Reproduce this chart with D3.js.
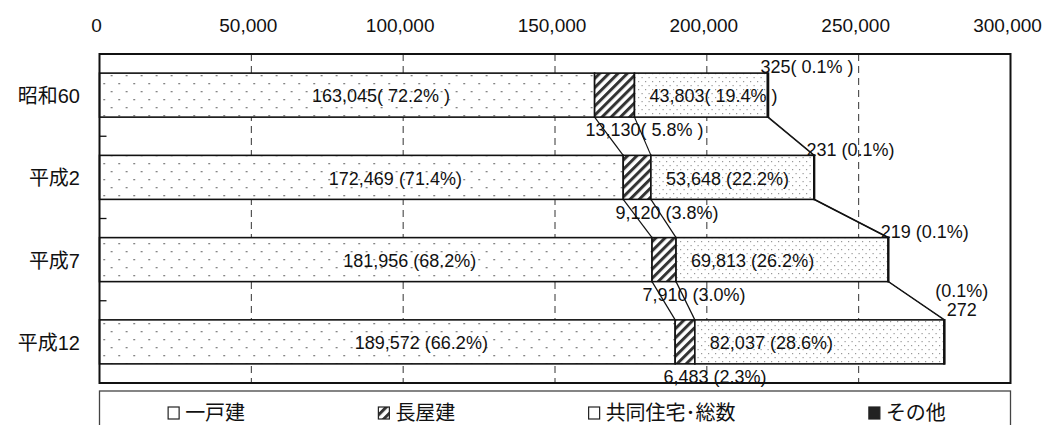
<!DOCTYPE html>
<html>
<head>
<meta charset="utf-8">
<script src="https://cdn.jsdelivr.net/npm/d3@7"></script>
<style>
  body { margin: 0; background: #fff; }
  text { font-family: "Liberation Sans", Arial, "Noto Sans CJK JP", sans-serif; fill: #111; }
</style>
</head>
<body>
<svg id="canvas" width="1049" height="425"></svg>
<script>
// values
var categories = ["昭和60", "平成2", "平成7", "平成12"];
var detached = [163045, 172469, 181956, 189572];
var rowHouse = [13130, 9120, 7910, 6483];
var apartment = [43803, 53648, 69813, 82037];
var other = [325, 231, 219, 272];
var detachedPct = ["( 72.2% )", " (71.4%)", " (68.2%)", " (66.2%)"];
var rowHousePct = ["( 5.8% )", " (3.8%)", " (3.0%)", " (2.3%)"];
var apartmentPct = ["( 19.4% )", " (22.2%)", " (26.2%)", " (28.6%)"];
var otherPct = ["( 0.1% )", " (0.1%)", " (0.1%)", "(0.1%)"];
var seriesNames = ["一戸建", "長屋建", "共同住宅･総数", "その他"];
var xTicks = [0, 50000, 100000, 150000, 200000, 250000, 300000];

var keys = ["detached", "rowHouse", "apartment", "other"];
var rows = categories.map(function(c, i) {
  return { cat: c, detached: detached[i], rowHouse: rowHouse[i], apartment: apartment[i], other: other[i] };
});
var stacked = d3.stack().keys(keys)(rows);

var svg = d3.select("#canvas");
// note: "top" is taken by window.top, so plotTop etc.
var plotLeft = 99.5, plotRight = 1010.5, plotTop = 54, plotBottom = 383;

var x = d3.scaleLinear().domain([0, 300000]).range([plotLeft, plotRight]);
var y = d3.scaleBand().domain(categories).range([plotTop, plotBottom])
  .paddingInner(0.465).paddingOuter(0.2325);
var fmt = d3.format(",");

// fill patterns
var defs = svg.append("defs");
var pDet = defs.append("pattern").attr("id", "pDet").attr("patternUnits", "userSpaceOnUse")
  .attr("width", 15).attr("height", 16).attr("x", plotLeft).attr("y", 0);
pDet.append("rect").attr("width", 15).attr("height", 16).attr("fill", "#fff");
pDet.append("rect").attr("x", 4).attr("y", 3).attr("width", 1.3).attr("height", 1.3).attr("fill", "#444");
pDet.append("rect").attr("x", 11.5).attr("y", 11).attr("width", 1.3).attr("height", 1.3).attr("fill", "#444");

var pRow = defs.append("pattern").attr("id", "pRow").attr("patternUnits", "userSpaceOnUse")
  .attr("width", 6.5).attr("height", 10).attr("patternTransform", "rotate(45)");
pRow.append("rect").attr("width", 6.5).attr("height", 10).attr("fill", "#fff");
pRow.append("rect").attr("width", 3).attr("height", 10).attr("fill", "#333");

var pApt = defs.append("pattern").attr("id", "pApt").attr("patternUnits", "userSpaceOnUse")
  .attr("width", 7).attr("height", 8);
pApt.append("rect").attr("width", 7).attr("height", 8).attr("fill", "#fff");
pApt.append("rect").attr("x", 1).attr("y", 1).attr("width", 1.2).attr("height", 1.2).attr("fill", "#999");
pApt.append("rect").attr("x", 4.5).attr("y", 5).attr("width", 1.2).attr("height", 1.2).attr("fill", "#999");

var fills = { detached: "url(#pDet)", rowHouse: "url(#pRow)", apartment: "url(#pApt)", other: "#111" };

// dashed grid lines
svg.append("g").selectAll("line")
  .data(xTicks.slice(1, -1))
  .enter().append("line")
    .attr("x1", function(d) { return x(d); }).attr("x2", function(d) { return x(d); })
    .attr("y1", plotTop).attr("y2", plotBottom)
    .attr("stroke", "#333").attr("stroke-width", 1).attr("stroke-dasharray", "7,5");

// top tick labels
svg.append("g").selectAll("text")
  .data(xTicks)
  .enter().append("text")
    .attr("x", function(d) { return x(d) - 3; })
    .attr("y", 32)
    .attr("text-anchor", "middle")
    .style("font-size", "19px")
    .text(function(d) { return fmt(d); });

// series lines between bars
var lines = svg.append("g");
stacked.forEach(function(s) {
  for (var i = 0; i < categories.length - 1; i++) {
    lines.append("line")
      .attr("x1", x(s[i][1])).attr("y1", y(categories[i]) + y.bandwidth())
      .attr("x2", x(s[i + 1][1])).attr("y2", y(categories[i + 1]))
      .attr("stroke", "#111").attr("stroke-width", 1.2);
  }
});

// bars
stacked.forEach(function(s) {
  svg.append("g").selectAll("rect")
    .data(s)
    .enter().append("rect")
      .attr("x", function(d) { return x(d[0]); })
      .attr("y", function(d) { return y(d.data.cat); })
      .attr("width", function(d) { return x(d[1]) - x(d[0]); })
      .attr("height", y.bandwidth())
      .attr("fill", fills[s.key])
      .attr("stroke", "#111").attr("stroke-width", 1.6);
});

// plot frame and category boundary ticks
svg.append("rect").attr("x", plotLeft).attr("y", plotTop)
  .attr("width", plotRight - plotLeft).attr("height", plotBottom - plotTop)
  .attr("fill", "none").attr("stroke", "#111").attr("stroke-width", 2);
svg.append("g").selectAll("line")
  .data(d3.range(1, categories.length))
  .enter().append("line")
    .attr("x1", plotLeft).attr("x2", plotLeft + 7)
    .attr("y1", function(d) { return plotTop + d * y.step(); })
    .attr("y2", function(d) { return plotTop + d * y.step(); })
    .attr("stroke", "#111").attr("stroke-width", 1.3);

// category labels
svg.append("g").selectAll("text")
  .data(categories)
  .enter().append("text")
    .attr("x", 80)
    .attr("y", function(d) { return y(d) + y.bandwidth() / 2 + 1; })
    .attr("dy", "0.35em")
    .attr("text-anchor", "end")
    .style("font-size", "20px")
    .text(function(d) { return d; });

// data labels
var lab = svg.append("g").style("font-size", "18px");
var sDet = stacked[0], sRow = stacked[1], sApt = stacked[2], sOth = stacked[3];
categories.forEach(function(c, i) {
  var yt = y(c), yb = yt + y.bandwidth(), ym = yt + y.bandwidth() / 2 + 1;
  lab.append("text")
    .attr("x", x((sDet[i][0] + sDet[i][1]) / 2) + 34).attr("y", ym).attr("dy", "0.35em")
    .attr("text-anchor", "middle")
    .text(fmt(detached[i]) + detachedPct[i]);
  lab.append("text")
    .attr("x", x((sRow[i][0] + sRow[i][1]) / 2) + 30).attr("y", yb + 13).attr("dy", "0.35em")
    .attr("text-anchor", "middle")
    .text(fmt(rowHouse[i]) + rowHousePct[i]);
  lab.append("text")
    .attr("x", x(sApt[i][0]) + 15).attr("y", ym).attr("dy", "0.35em")
    .attr("text-anchor", "start")
    .text(fmt(apartment[i]) + apartmentPct[i]);
  if (i < categories.length - 1) {
    lab.append("text")
      .attr("x", x(sOth[i][1]) - 8).attr("y", yt - 6).attr("dy", "0.35em")
      .attr("text-anchor", "start")
      .text(fmt(other[i]) + otherPct[i]);
  } else {
    // last one is stacked on two lines in the original
    var t = lab.append("text").attr("text-anchor", "middle");
    t.append("tspan").attr("x", x(sOth[i][1]) + 17).attr("y", yt - 29).attr("dy", "0.35em").text(otherPct[i]);
    t.append("tspan").attr("x", x(sOth[i][1]) + 17).attr("y", yt - 10).attr("dy", "0.35em").text(fmt(other[i]));
  }
});

// legend
var lgTop = 391;
svg.append("rect").attr("x", plotLeft).attr("y", lgTop)
  .attr("width", plotRight - plotLeft).attr("height", 40)
  .attr("fill", "#fff").attr("stroke", "#444").attr("stroke-width", 1.3);

var items = svg.append("g").selectAll("g")
  .data(keys)
  .enter().append("g");
items.append("rect")
  .attr("x", 0).attr("y", -6).attr("width", 11).attr("height", 12)
  .attr("fill", function(d) { return d == "other" ? "#222" : (d == "rowHouse" ? "url(#pRow)" : "#fff"); })
  .attr("stroke", "#222").attr("stroke-width", 1.2);
items.append("text")
  .attr("x", 17).attr("y", 0).attr("dy", "0.35em")
  .style("font-size", "20px")
  .text(function(d, i) { return seriesNames[i]; });

var widths = [];
items.each(function() { widths.push(this.getBBox().width); });
var gap = ((plotRight - plotLeft) - d3.sum(widths)) / keys.length;
var cx = plotLeft + gap / 2 + 2;
items.attr("transform", function(d, i) {
  var tx = cx;
  cx += widths[i] + gap;
  return "translate(" + tx + "," + (lgTop + 22) + ")";
});
</script>
</body>
</html>
